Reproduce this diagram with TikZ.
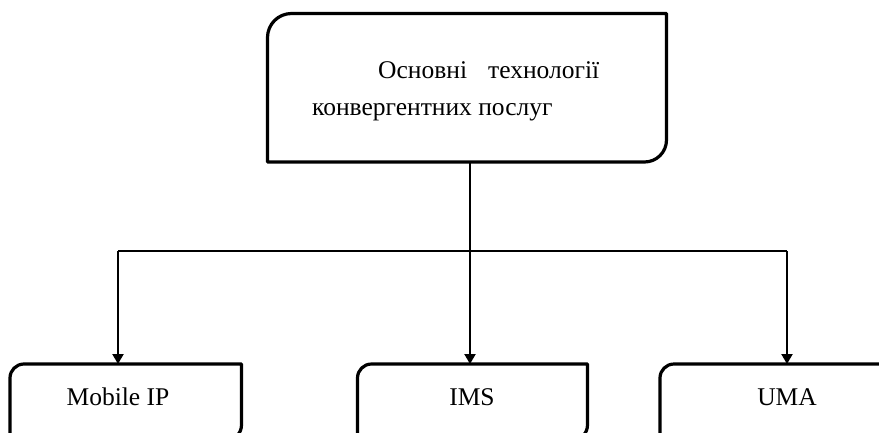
\documentclass[tikz,border=0pt]{standalone}
\usepackage{fontspec}
\setmainfont{Liberation Serif}
\usetikzlibrary{arrows.meta}
\begin{document}
\begin{tikzpicture}[x=1pt,y=-1pt,
  frame/.style={draw=none,rectangle,inner sep=0pt,outer sep=0pt},
  outline/.style={line width=3.2pt,line join=round},
  wire/.style={line width=2.2pt},
  feed/.style={wire,-{Triangle[width=11pt,length=10pt]}},
  caption/.style={inner sep=0pt,font=\fontsize{25.5}{30}\selectfont}]
\useasboundingbox (0,0) rectangle (879,432);
\clip (0,0) rectangle (879,432);
\fill[white] (0,0) rectangle (879,432);

% boxes (frames only; outlines drawn below)
\node[frame,minimum width=399pt,minimum height=148.5pt] (core) at (467,87.75) {};
\node[frame,minimum width=231.5pt,minimum height=76pt] (mip) at (125.75,402) {};
\node[frame,minimum width=230pt,minimum height=76pt] (ims) at (472.5,402) {};
\node[frame,minimum width=240pt,minimum height=76pt] (uma) at (780,402) {};

% outlines: rounded top-left and bottom-right corners
\draw[outline] (core.south west) -- ([yshift=-24pt]core.north west)
  arc[start angle=180,end angle=90,radius=24pt] -- (core.north east)
  -- ([yshift=22pt]core.south east) arc[start angle=0,end angle=-90,radius=22pt] -- cycle;
\foreach \b in {mip,ims,uma}{
  \draw[outline] (\b.south west) -- ([yshift=-14pt]\b.north west)
    arc[start angle=180,end angle=90,radius=14pt] -- (\b.north east)
    -- ([yshift=15pt]\b.south east) arc[start angle=0,end angle=-90,radius=15pt] -- cycle;
}

% captions
\node[caption,anchor=base west] (c1) at (378,78) {Основні};
\node[caption,anchor=base west] (c2) at (488,78) {технології};
\node[caption,anchor=base west] (c3) at (312,115) {конвергентних послуг};
\node[caption,anchor=base] (t1) at (118,405) {Mobile IP};
\node[caption,anchor=base] (t2) at (472,405) {IMS};
\node[caption,anchor=base] (t3) at (787,405) {UMA};

% connectors
\coordinate (hub) at (470,251);
\coordinate (lhub) at (118,251);
\coordinate (rhub) at (787,251);
\draw[wire] (lhub) -- (rhub);
\draw[feed] (core.south -| hub) -- (hub |- ims.north);
\draw[feed] (lhub) -- (lhub |- mip.north);
\draw[feed] (rhub) -- (rhub |- uma.north);
\end{tikzpicture}
\end{document}
